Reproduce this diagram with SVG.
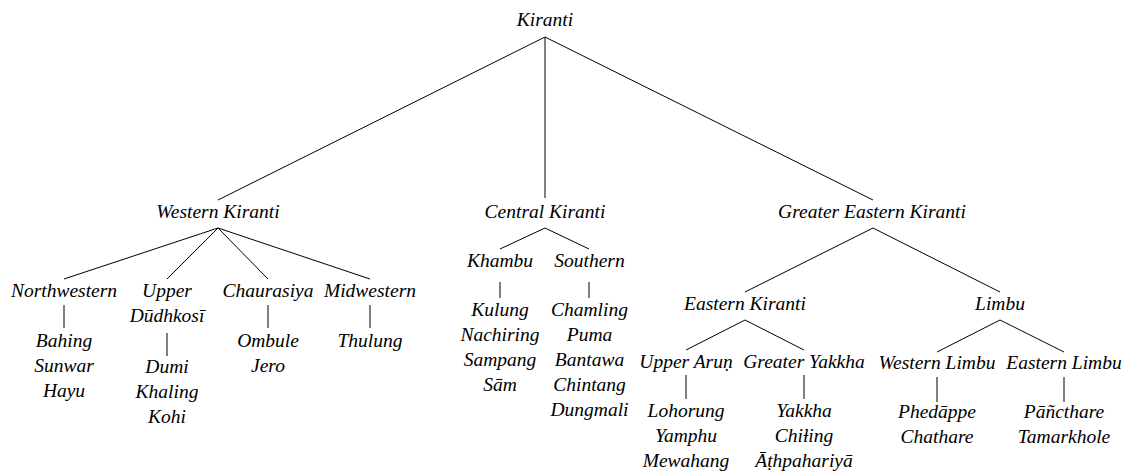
<svg xmlns="http://www.w3.org/2000/svg" width="1123" height="474" viewBox="0 0 1123 474">
<style>
text{font-family:"Liberation Serif","DejaVu Serif",serif;font-style:italic;font-size:19.5px;fill:#000;text-anchor:middle}
.e line{stroke:#000;stroke-width:1;fill:none}
</style>
<rect width="1123" height="474" fill="#fff"/>
<g class="e" id="connectors">
<line x1="545" y1="37" x2="218" y2="200"/>
<line x1="545" y1="37" x2="545" y2="198"/>
<line x1="545" y1="37" x2="873" y2="200"/>
<line x1="218" y1="228" x2="64" y2="279"/>
<line x1="218" y1="228" x2="167" y2="279"/>
<line x1="218" y1="228" x2="268" y2="279"/>
<line x1="218" y1="228" x2="370" y2="279"/>
<line x1="64" y1="305" x2="64" y2="328"/>
<line x1="167" y1="333" x2="167" y2="356"/>
<line x1="268" y1="305" x2="268" y2="328"/>
<line x1="370" y1="305" x2="370" y2="328"/>
<line x1="545" y1="228" x2="500" y2="249"/>
<line x1="545" y1="228" x2="589" y2="249"/>
<line x1="500" y1="282" x2="500" y2="298"/>
<line x1="589" y1="282" x2="589" y2="298"/>
<line x1="873" y1="228" x2="745" y2="292"/>
<line x1="873" y1="228" x2="1000" y2="292"/>
<line x1="745" y1="320" x2="686" y2="350"/>
<line x1="745" y1="320" x2="804" y2="350"/>
<line x1="1000" y1="320" x2="937" y2="352"/>
<line x1="1000" y1="320" x2="1064" y2="352"/>
<line x1="686" y1="375" x2="686" y2="399"/>
<line x1="804" y1="375" x2="804" y2="399"/>
<line x1="937" y1="377" x2="937" y2="402"/>
<line x1="1064" y1="377" x2="1064" y2="402"/>
</g>
<g id="kiranti"><text x="545" y="26">Kiranti</text></g>
<g id="western-kiranti"><text x="218" y="218">Western Kiranti</text></g>
<g id="central-kiranti"><text x="545" y="218">Central Kiranti</text></g>
<g id="greater-eastern-kiranti"><text x="872" y="218">Greater Eastern Kiranti</text></g>
<g id="northwestern"><text x="64" y="297">Northwestern</text></g>
<g id="northwestern-langs"><text x="64" y="347">Bahing<tspan x="64" y="372">Sunwar</tspan><tspan x="64" y="397">Hayu</tspan></text></g>
<g id="upper-dudhkosi"><text x="167" y="297">Upper<tspan x="167" y="322">Dūdhkosī</tspan></text></g>
<g id="upper-dudhkosi-langs"><text x="167" y="373">Dumi<tspan x="167" y="398">Khaling</tspan><tspan x="167" y="423">Kohi</tspan></text></g>
<g id="chaurasiya"><text x="268" y="297">Chaurasiya</text></g>
<g id="chaurasiya-langs"><text x="268" y="347">Ombule<tspan x="268" y="372">Jero</tspan></text></g>
<g id="midwestern"><text x="370" y="297">Midwestern</text></g>
<g id="midwestern-langs"><text x="370" y="347">Thulung</text></g>
<g id="khambu"><text x="500" y="267">Khambu</text></g>
<g id="khambu-langs"><text x="500" y="316">Kulung<tspan x="500" y="341">Nachiring</tspan><tspan x="500" y="366">Sampang</tspan><tspan x="500" y="391">Sām</tspan></text></g>
<g id="southern"><text x="589.5" y="267">Southern</text></g>
<g id="southern-langs"><text x="589.5" y="316">Chamling<tspan x="589.5" y="341">Puma</tspan><tspan x="589.5" y="366">Bantawa</tspan><tspan x="589.5" y="391">Chintang</tspan><tspan x="589.5" y="416">Dungmali</tspan></text></g>
<g id="eastern-kiranti"><text x="745" y="310">Eastern Kiranti</text></g>
<g id="limbu"><text x="1000" y="310">Limbu</text></g>
<g id="upper-arun"><text x="686" y="368">Upper Aruṇ</text></g>
<g id="upper-arun-langs"><text x="686" y="417">Lohorung<tspan x="686" y="442">Yamphu</tspan><tspan x="686" y="467">Mewahang</tspan></text></g>
<g id="greater-yakkha"><text x="804" y="368">Greater Yakkha</text></g>
<g id="greater-yakkha-langs"><text x="804" y="417">Yakkha<tspan x="804" y="442">Chiƚing</tspan><tspan x="804" y="467">Āṭhpahariyā</tspan></text></g>
<g id="western-limbu"><text x="937" y="369">Western Limbu</text></g>
<g id="western-limbu-langs"><text x="937" y="418">Phedāppe<tspan x="937" y="443">Chathare</tspan></text></g>
<g id="eastern-limbu"><text x="1064" y="369">Eastern Limbu</text></g>
<g id="eastern-limbu-langs"><text x="1064" y="418">Pāñcthare<tspan x="1064" y="443">Tamarkhole</tspan></text></g>
</svg>
